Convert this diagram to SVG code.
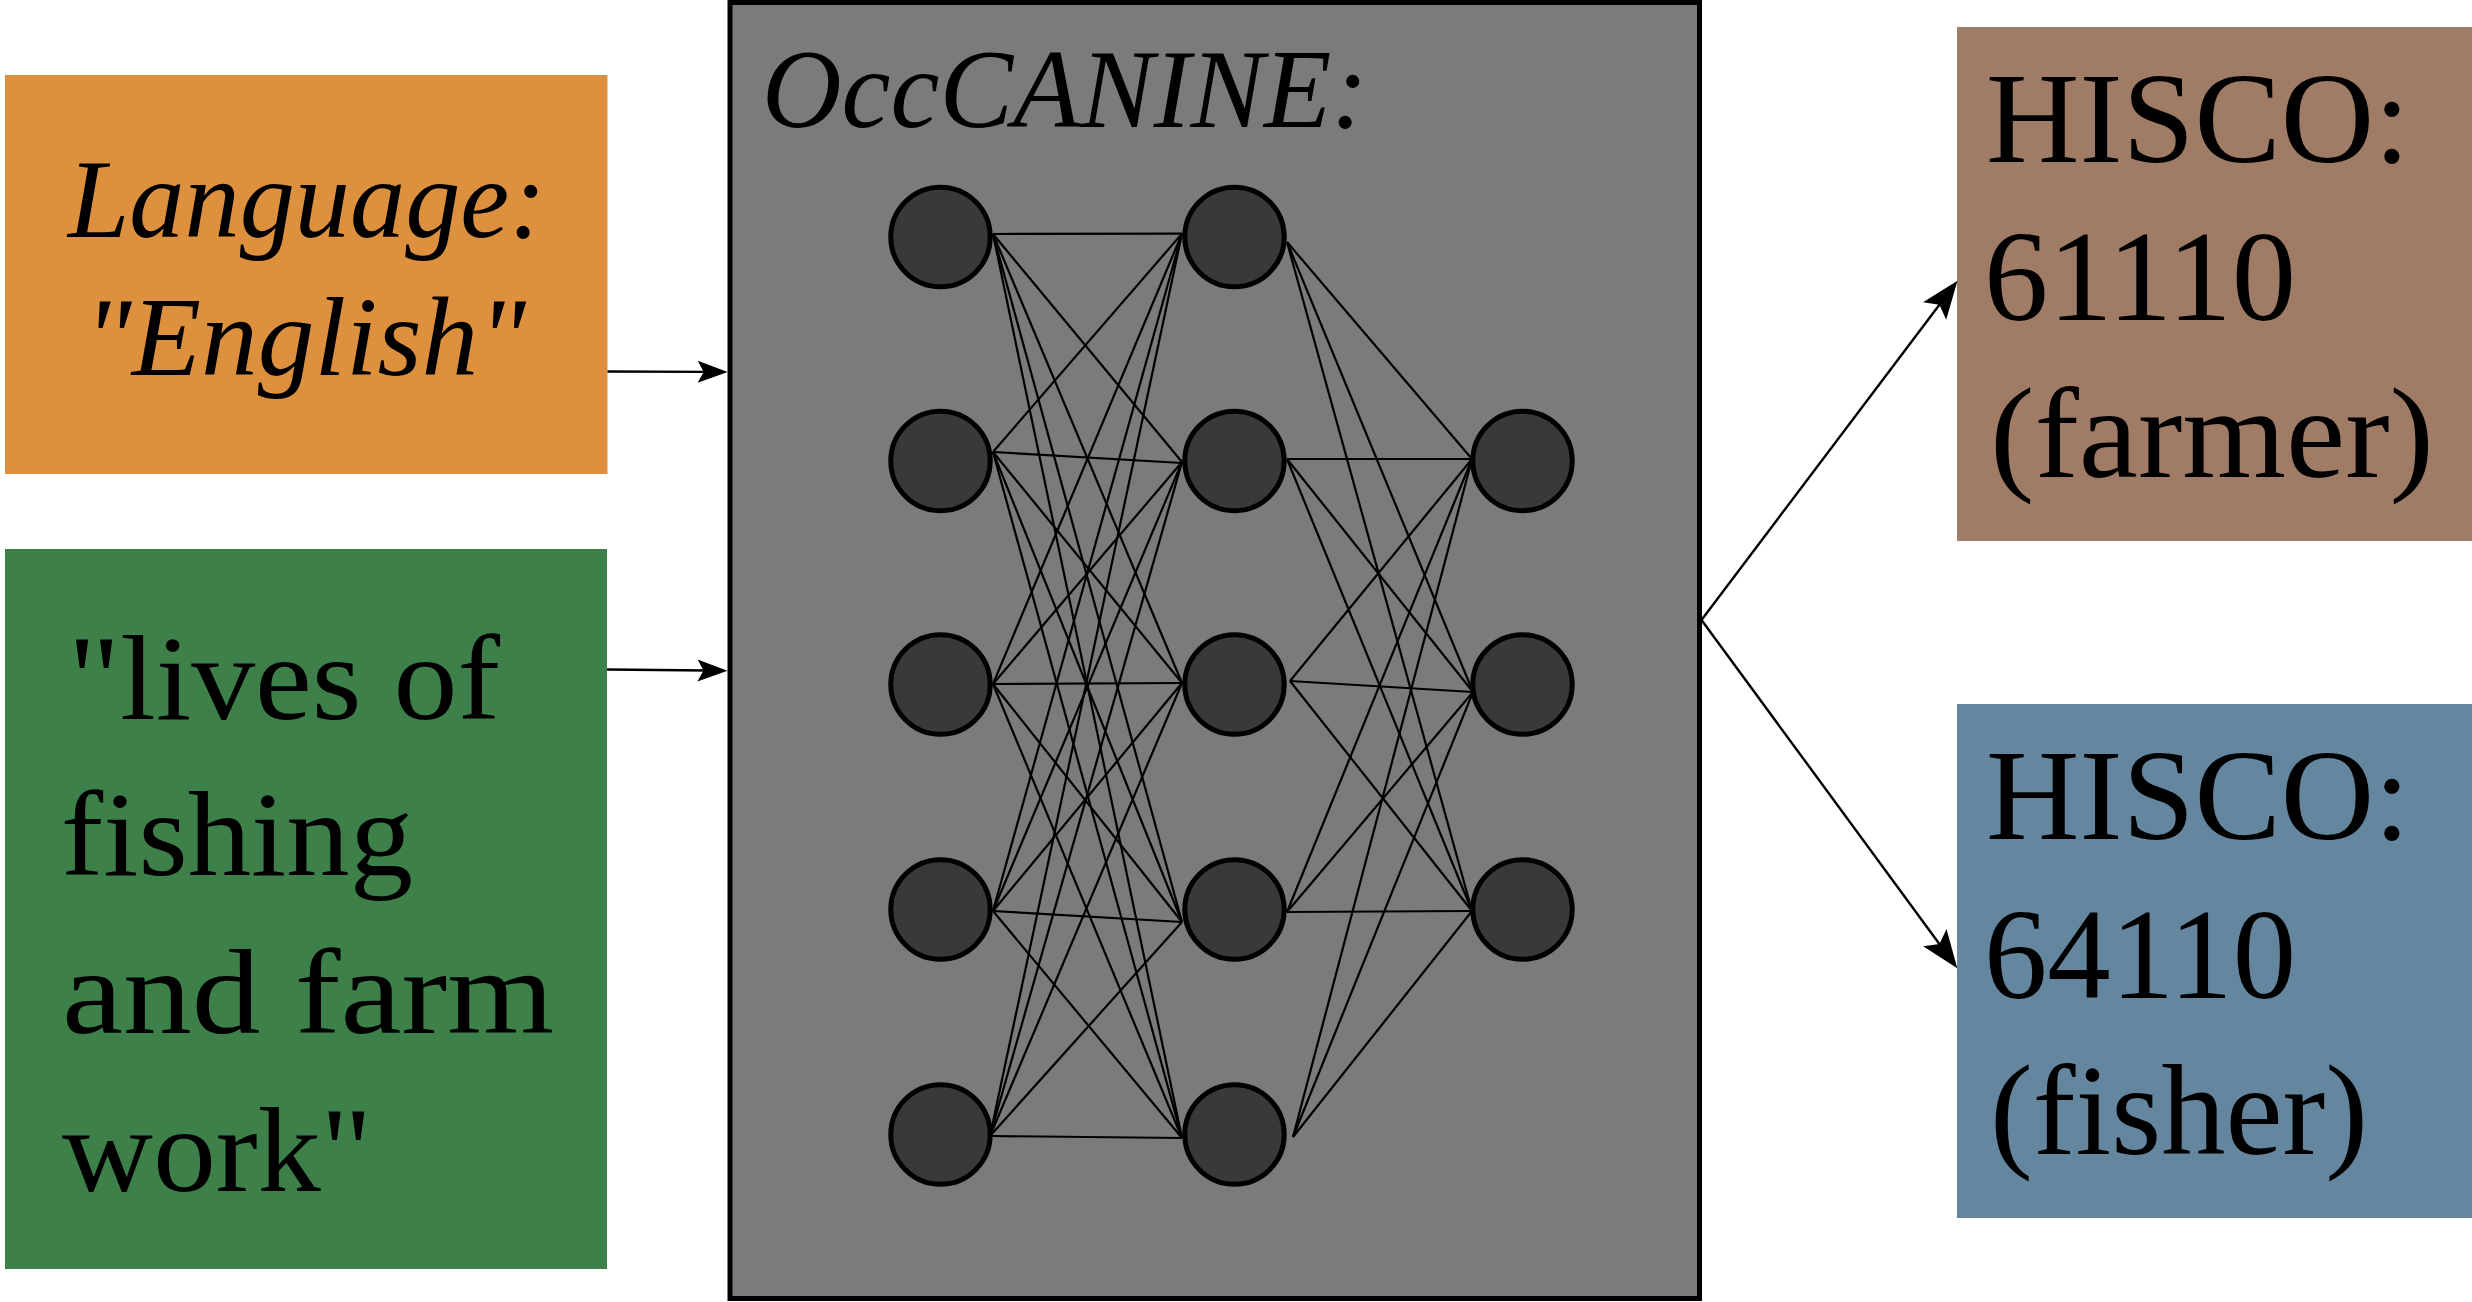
<svg xmlns="http://www.w3.org/2000/svg" width="2472" height="1302" viewBox="0 0 2472 1302">
<style>
  .txt { font-family: "Liberation Serif", "DejaVu Serif", serif; fill: #000; }
  .it { font-style: italic; }
  .neuron { fill: #393939; stroke: #000; stroke-width: 5; }
  .edge { stroke: #000; stroke-width: 2.2; fill: none; }
  .arrow { stroke: #000; stroke-width: 2.4; fill: none; }
</style>
<defs>
  <marker id="headS" markerUnits="userSpaceOnUse" viewBox="-15 -15 40 30" markerWidth="40" markerHeight="30" refX="0" refY="0" orient="auto">
    <path d="M20,0 L-10,-11 L-4,0 L-10,11 Z" fill="#000"/>
  </marker>
  <marker id="headL" markerUnits="userSpaceOnUse" viewBox="-22 -18 46 36" markerWidth="46" markerHeight="36" refX="0" refY="0" orient="auto">
    <path d="M20,0 L-18,-14.5 L-10,0 L-18,14.5 Z" fill="#000"/>
  </marker>
</defs>
<rect width="2472" height="1302" fill="#ffffff"/>

<g id="language-input">
  <rect x="5" y="75" width="602.5" height="399" fill="#DD913F"/>
  <text class="txt it" x="68" y="237" font-size="112" textLength="478" lengthAdjust="spacingAndGlyphs">Language:</text>
  <text class="txt it" x="84" y="375" font-size="112" textLength="442" lengthAdjust="spacingAndGlyphs">"English"</text>
</g>

<g id="occupation-input">
  <rect x="5" y="549" width="602" height="720" fill="#3E8049"/>
  <text class="txt" x="68" y="719" font-size="120" textLength="432" lengthAdjust="spacingAndGlyphs">"lives of</text>
  <text class="txt" x="61" y="875" font-size="120" textLength="352" lengthAdjust="spacingAndGlyphs">fishing</text>
  <text class="txt" x="62" y="1033" font-size="120" textLength="492" lengthAdjust="spacingAndGlyphs">and farm</text>
  <text class="txt" x="62" y="1191" font-size="120" textLength="310" lengthAdjust="spacingAndGlyphs">work"</text>
</g>

<g id="occcanine">
  <rect x="730" y="2.5" width="969.5" height="1296" fill="#7B7B7B" stroke="#000" stroke-width="5"/>
  <text class="txt it" x="762" y="127" font-size="112" textLength="606" lengthAdjust="spacingAndGlyphs">OccCANINE:</text>
  <g id="network-edges">
    <!-- layer 1 to layer 2 -->
    <line class="edge" x1="993" y1="234" x2="1182" y2="233.6"/>
    <line class="edge" x1="993" y1="234" x2="1182" y2="462"/>
    <line class="edge" x1="993" y1="234" x2="1182" y2="683"/>
    <line class="edge" x1="993" y1="234" x2="1182" y2="922"/>
    <line class="edge" x1="993" y1="234" x2="1182" y2="1138"/>
    <line class="edge" x1="993" y1="452" x2="1182" y2="233.6"/>
    <line class="edge" x1="993" y1="452" x2="1182" y2="463"/>
    <line class="edge" x1="993" y1="452" x2="1182" y2="683"/>
    <line class="edge" x1="993" y1="452" x2="1182" y2="922"/>
    <line class="edge" x1="993" y1="452" x2="1182" y2="1138"/>
    <line class="edge" x1="993" y1="684" x2="1182" y2="233.6"/>
    <line class="edge" x1="993" y1="684" x2="1182" y2="462"/>
    <line class="edge" x1="993" y1="684" x2="1182" y2="683"/>
    <line class="edge" x1="993" y1="684" x2="1182" y2="922"/>
    <line class="edge" x1="993" y1="684" x2="1182" y2="1138"/>
    <line class="edge" x1="993" y1="911" x2="1182" y2="233.6"/>
    <line class="edge" x1="993" y1="911" x2="1182" y2="462"/>
    <line class="edge" x1="993" y1="911" x2="1182" y2="683"/>
    <line class="edge" x1="993" y1="911" x2="1182" y2="922"/>
    <line class="edge" x1="993" y1="911" x2="1182" y2="1138"/>
    <line class="edge" x1="990" y1="1136" x2="1182" y2="233.6"/>
    <line class="edge" x1="990" y1="1136" x2="1182" y2="462"/>
    <line class="edge" x1="990" y1="1136" x2="1182" y2="683"/>
    <line class="edge" x1="990" y1="1136" x2="1182" y2="922"/>
    <line class="edge" x1="990" y1="1136" x2="1182" y2="1138"/>
    <!-- layer 2 to layer 3 -->
    <line class="edge" x1="1287" y1="242" x2="1472" y2="459"/>
    <line class="edge" x1="1287" y1="242" x2="1473" y2="692"/>
    <line class="edge" x1="1287" y1="242" x2="1472" y2="911"/>
    <line class="edge" x1="1287" y1="459" x2="1472" y2="459"/>
    <line class="edge" x1="1287" y1="459" x2="1473" y2="692"/>
    <line class="edge" x1="1287" y1="459" x2="1472" y2="911"/>
    <line class="edge" x1="1290" y1="681" x2="1472" y2="459"/>
    <line class="edge" x1="1290" y1="681" x2="1473" y2="692"/>
    <line class="edge" x1="1290" y1="681" x2="1472" y2="911"/>
    <line class="edge" x1="1287" y1="912" x2="1472" y2="459"/>
    <line class="edge" x1="1287" y1="912" x2="1473" y2="692"/>
    <line class="edge" x1="1287" y1="912" x2="1472" y2="911"/>
    <line class="edge" x1="1293" y1="1137" x2="1472" y2="459"/>
    <line class="edge" x1="1293" y1="1137" x2="1473" y2="692"/>
    <line class="edge" x1="1293" y1="1137" x2="1472" y2="911"/>
  </g>
  <g id="neuron-l1-1"><circle class="neuron" cx="940.5" cy="237" r="49.7"/></g>
  <g id="neuron-l1-2"><circle class="neuron" cx="940.5" cy="461" r="49.7"/></g>
  <g id="neuron-l1-3"><circle class="neuron" cx="940.5" cy="684.5" r="49.7"/></g>
  <g id="neuron-l1-4"><circle class="neuron" cx="940.5" cy="909.5" r="49.7"/></g>
  <g id="neuron-l1-5"><circle class="neuron" cx="940.5" cy="1134.5" r="49.7"/></g>
  <g id="neuron-l2-1"><circle class="neuron" cx="1234.5" cy="237" r="49.7"/></g>
  <g id="neuron-l2-2"><circle class="neuron" cx="1234.5" cy="461" r="49.7"/></g>
  <g id="neuron-l2-3"><circle class="neuron" cx="1234.5" cy="684.5" r="49.7"/></g>
  <g id="neuron-l2-4"><circle class="neuron" cx="1234.5" cy="909.5" r="49.7"/></g>
  <g id="neuron-l2-5"><circle class="neuron" cx="1234.5" cy="1134.5" r="49.7"/></g>
  <g id="neuron-l3-1"><circle class="neuron" cx="1522.5" cy="461" r="49.7"/></g>
  <g id="neuron-l3-2"><circle class="neuron" cx="1522.5" cy="684.5" r="49.7"/></g>
  <g id="neuron-l3-3"><circle class="neuron" cx="1522.5" cy="909.5" r="49.7"/></g>
</g>

<g id="hisco-farmer">
  <rect x="1957" y="27" width="515" height="514" fill="#A07B65"/>
  <text class="txt" x="1986" y="162" font-size="130" textLength="424" lengthAdjust="spacingAndGlyphs">HISCO:</text>
  <text class="txt" x="1984" y="320" font-size="130" textLength="312" lengthAdjust="spacingAndGlyphs">61110</text>
  <text class="txt" x="1990" y="477" font-size="130" textLength="444" lengthAdjust="spacingAndGlyphs">(farmer)</text>
</g>

<g id="hisco-fisher">
  <rect x="1957" y="704" width="515" height="514" fill="#65869F"/>
  <text class="txt" x="1986" y="839" font-size="130" textLength="424" lengthAdjust="spacingAndGlyphs">HISCO:</text>
  <text class="txt" x="1984" y="998" font-size="130" textLength="312" lengthAdjust="spacingAndGlyphs">64110</text>
  <text class="txt" x="1990" y="1154" font-size="130" textLength="378" lengthAdjust="spacingAndGlyphs">(fisher)</text>
</g>

<g id="connectors">
  <line class="arrow" x1="607.5" y1="371.5" x2="707.7" y2="371.9" marker-end="url(#headS)"/>
  <line class="arrow" x1="607" y1="669.5" x2="707.5" y2="670.5" marker-end="url(#headS)"/>
  <line class="arrow" x1="1701.5" y1="620" x2="1945.45" y2="296.67" marker-end="url(#headL)"/>
  <line class="arrow" x1="1701.5" y1="620" x2="1945.46" y2="952.18" marker-end="url(#headL)"/>
</g>
</svg>
